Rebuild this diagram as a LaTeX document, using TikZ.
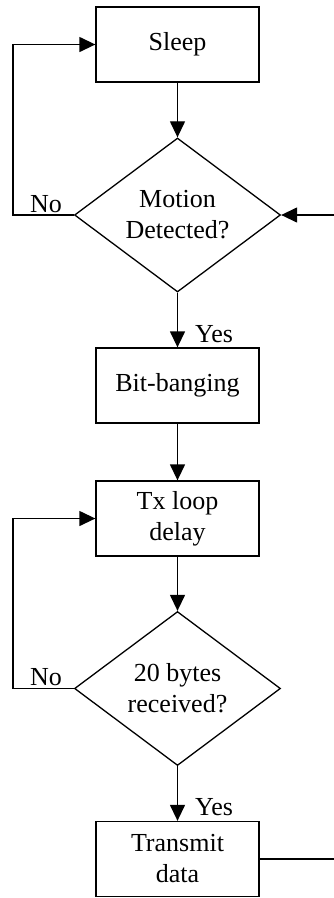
\documentclass[tikz,border=0pt]{standalone}
\usepackage{fontspec}
\setmainfont{Liberation Serif}
\usetikzlibrary{arrows.meta,positioning,shapes.geometric}

\begin{document}
\begin{tikzpicture}[x=1pt, y=-1pt, font=\fontsize{26}{31}\selectfont,
  bx/.style={draw, line width=1.3pt, align=center, inner sep=0pt,
             minimum width=163pt, minimum height=75pt},
  dec/.style={draw, diamond, aspect=1.34, line width=1.3pt, align=center,
              inner sep=0pt, minimum width=206pt, minimum height=154pt},
  fl/.style={-{Triangle[length=16pt, width=15pt]}, line width=1.3pt},
  ln/.style={line width=1.3pt},
  lbl/.style={anchor=base west, inner sep=0pt}]
\useasboundingbox (0,0) rectangle (334,898);

% main column
\node[bx] (sleep) at (177.5,44.5) {Sleep};
\node[dec] (motion) at (177.5,215) {Motion\\Detected?};
\node[bx] (bitbang) at (177.5,385.5) {Bit-banging};
\node[bx] (txdelay) at (177.5,518.5) {Tx loop\\delay};
\node[dec] (bytes) at (177.5,688.5) {20 bytes\\received?};
\node[bx] (transmit) at (177.5,859) {Transmit\\data};

\draw[fl] (sleep) -- (motion);
\draw[fl] (motion) -- (bitbang);
\draw[fl] (bitbang) -- (txdelay);
\draw[fl] (txdelay) -- (bytes);
\draw[fl] (bytes) -- (transmit);

% yes / no labels
\node[lbl] (nomotion) at (30,212) {No};
\node[lbl] (yesmotion) at (195,342) {Yes};
\node[lbl] (nobytes) at (30,685) {No};
\node[lbl] (yesbytes) at (195,815) {Yes};

% loops back on the left
\coordinate (loopa) at (13,215);
\coordinate (loopb) at (13,688.5);
\draw[fl] (motion.west) -- (loopa) |- (sleep.west);
\draw[fl] (bytes.west) -- (loopb) |- (txdelay.west);

% return path on the right edge
\coordinate (backin) at (334,215);
\coordinate (backout) at (334,859);
\draw[fl] (backin) -- (motion.east);
\draw[ln] (transmit.east) -- (backout);
\end{tikzpicture}
\end{document}
